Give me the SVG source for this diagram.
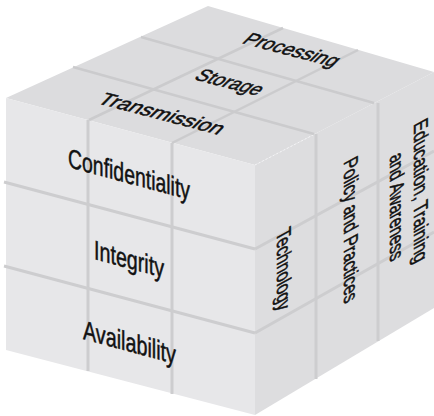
<svg xmlns="http://www.w3.org/2000/svg" width="434" height="416" viewBox="0 0 434 416">
<style>
.top{fill:#dcdcde}
.front{fill:#e7e7e9}
.right{fill:#dddddf}
.groove{stroke:#cdcdcf;stroke-width:3;fill:none;stroke-linecap:butt}
.gtop{stroke:#cbcbcd;stroke-width:2.5;fill:none}
.lbl{font-family:"Liberation Sans Narrow","Liberation Sans",Arial,sans-serif;fill:#111;stroke:#111;stroke-width:0.5}
</style>
<rect width="434" height="416" fill="#ffffff"/>
<g id="cube">
  <polygon class="top" points="6,98 208,6 434,72 255,165"/>
  <polygon class="front" points="6,98 255,165 255,415 6,350"/>
  <polygon class="right" points="255,165 434,72 434,308 255,415"/>
  <line x1="255" y1="165" x2="315" y2="134" stroke="#f4f4f6" stroke-width="1" stroke-dasharray="2 2"/>
</g>
<g id="grooves">
  <line class="gtop" x1="73" y1="67" x2="314" y2="134"/>
  <line class="gtop" x1="141" y1="37" x2="374" y2="103"/>
  <line class="gtop" x1="89" y1="120" x2="283" y2="28"/>
  <line class="gtop" x1="172" y1="143" x2="358" y2="50"/>
  <line class="groove" x1="88" y1="120" x2="88" y2="371"/>
  <line class="groove" x1="172" y1="143" x2="172" y2="394"/>
  <line class="groove" x1="4" y1="182" x2="255" y2="249"/>
  <line class="groove" x1="4" y1="266" x2="255" y2="333"/>
  <line class="groove" x1="316" y1="134" x2="316" y2="379"/>
  <line class="groove" x1="378" y1="103" x2="378" y2="341"/>
  <line class="groove" x1="255" y1="249" x2="434" y2="151"/>
  <line class="groove" x1="255" y1="333" x2="434" y2="232"/>
</g>
<g id="n-transmission"><text class="lbl" font-size="19" textLength="122" lengthAdjust="spacingAndGlyphs" transform="matrix(1,0.26,-0.8,0.8,96,103)">Transmission</text></g>
<g id="n-storage"><text class="lbl" font-size="19" textLength="64" lengthAdjust="spacingAndGlyphs" transform="matrix(1,0.26,-0.8,0.8,193,79)">Storage</text></g>
<g id="n-processing"><text class="lbl" font-size="19" textLength="92" lengthAdjust="spacingAndGlyphs" transform="matrix(1,0.26,-0.8,0.8,241,43)">Processing</text></g>
<g id="n-confidentiality"><text class="lbl" font-size="27" textLength="122" lengthAdjust="spacingAndGlyphs" transform="matrix(1,0.27,0,1,68,167)">Confidentiality</text></g>
<g id="n-integrity"><text class="lbl" font-size="27" textLength="70" lengthAdjust="spacingAndGlyphs" transform="matrix(1,0.27,0,1,94,259)">Integrity</text></g>
<g id="n-availability"><text class="lbl" font-size="27" textLength="93" lengthAdjust="spacingAndGlyphs" transform="matrix(1,0.27,0,1,83,339)">Availability</text></g>
<g id="n-technology"><text class="lbl" font-size="20" textLength="80" lengthAdjust="spacingAndGlyphs" transform="matrix(0,1,-1,0.55,277,233)">Technology</text></g>
<g id="n-policy"><text class="lbl" font-size="20" textLength="143" lengthAdjust="spacingAndGlyphs" transform="matrix(0,1,-1,0.55,344,162)">Policy and Practices</text></g>
<g id="n-education">
  <text class="lbl" font-size="20" textLength="141" lengthAdjust="spacingAndGlyphs" transform="matrix(0,1,-1,0.55,414,124)">Education, Training</text>
  <text class="lbl" font-size="20" textLength="106" lengthAdjust="spacingAndGlyphs" transform="matrix(0,1,-1,0.55,390,157)">and Awareness</text>
</g>
</svg>
